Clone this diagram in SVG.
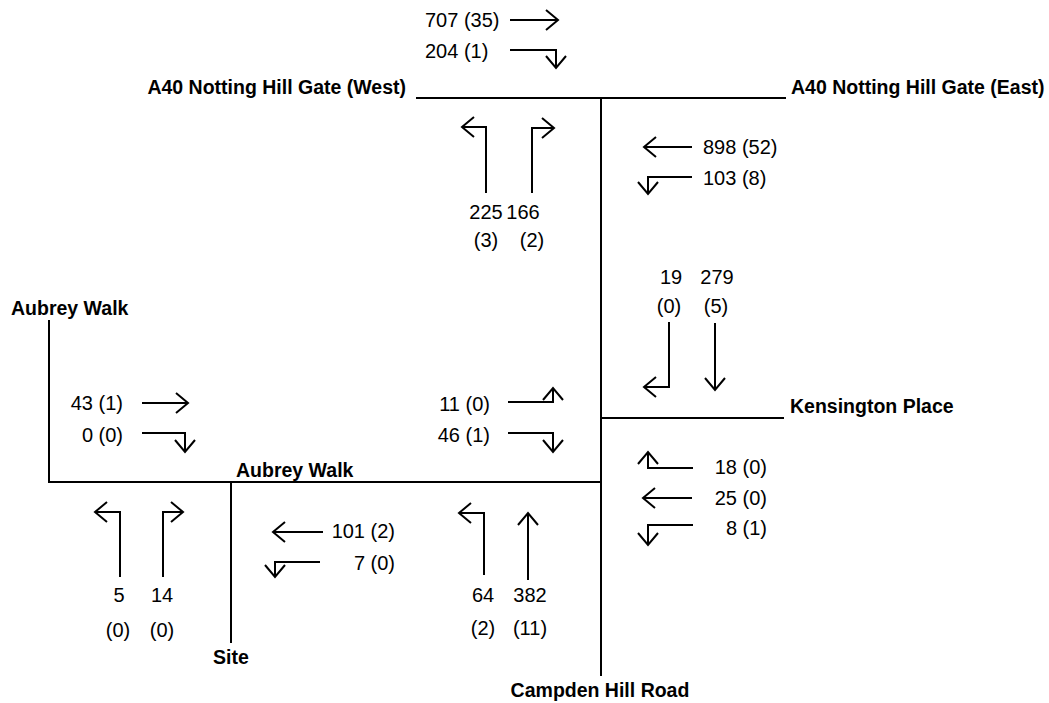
<svg xmlns="http://www.w3.org/2000/svg" width="1049" height="703" viewBox="0 0 1049 703">
<style>
.road{stroke:#000;stroke-width:2;fill:none;stroke-linecap:square}
.arr{stroke:#000;stroke-width:2;fill:none;marker-end:url(#chev)}
.lbl{font-family:"Liberation Sans",Arial,sans-serif;font-weight:bold;font-size:19.5px;fill:#000}
.num{font-family:"Liberation Sans",Arial,sans-serif;font-size:20px;fill:#000}
.e{text-anchor:end}
.m{text-anchor:middle}
</style>
<defs>
<marker id="chev" viewBox="-14 -12 16 24" refX="0" refY="0" markerWidth="16" markerHeight="24" markerUnits="userSpaceOnUse" orient="auto">
<path d="M-12,-10 L0,0 L-12,10" fill="none" stroke="#000" stroke-width="2"/>
</marker>
</defs>
<rect width="1049" height="703" fill="#fff"/>
<g id="roads">
<line class="road" x1="417" y1="98" x2="785" y2="98"/>
<line class="road" x1="601" y1="98" x2="601" y2="675"/>
<line class="road" x1="601" y1="418" x2="783" y2="418"/>
<line class="road" x1="49" y1="482" x2="601" y2="482"/>
<line class="road" x1="49" y1="321" x2="49" y2="482"/>
<line class="road" x1="231" y1="482" x2="231" y2="642"/>
</g>
<g id="road-labels">
<g id="a40-west"><text class="lbl e" x="406" y="94">A40 Notting Hill Gate (West)</text></g>
<g id="a40-east"><text class="lbl" x="791" y="94">A40 Notting Hill Gate (East)</text></g>
<g id="aubrey-walk-west"><text class="lbl" x="11" y="315">Aubrey Walk</text></g>
<g id="kensington-place"><text class="lbl" x="790" y="413">Kensington Place</text></g>
<g id="aubrey-walk"><text class="lbl" x="236" y="477">Aubrey Walk</text></g>
<g id="site"><text class="lbl m" x="231" y="664">Site</text></g>
<g id="campden-hill-road"><text class="lbl m" x="600" y="697">Campden Hill Road</text></g>
</g>
<g id="connectors">
<polyline class="arr" points="510,20 558,20"/>
<polyline class="arr" points="510,50 556,50 556,68"/>
<polyline class="arr" points="486,193 486,127 462,127"/>
<polyline class="arr" points="532,193 532,128 554,128"/>
<polyline class="arr" points="692,147 644,147"/>
<polyline class="arr" points="692,177 648,177 648,194"/>
<polyline class="arr" points="669,322 669,387 644,387"/>
<polyline class="arr" points="715,323 715,390"/>
<polyline class="arr" points="693,468 648,468 648,452"/>
<polyline class="arr" points="692,498 643,498"/>
<polyline class="arr" points="693,525 648,525 648,545"/>
<polyline class="arr" points="508,402 553,402 553,388"/>
<polyline class="arr" points="508,433 553,433 553,452"/>
<polyline class="arr" points="142,403 188,403"/>
<polyline class="arr" points="142,433 185,433 185,452"/>
<polyline class="arr" points="120,577 120,512 95,512"/>
<polyline class="arr" points="163,577 163,512 183,512"/>
<polyline class="arr" points="323,532 273,532"/>
<polyline class="arr" points="320,562 275,562 275,577"/>
<polyline class="arr" points="484,575 484,513 459,513"/>
<polyline class="arr" points="528,580 528,513"/>
</g>
<g id="counts">
<text class="num" x="425" y="27">707 (35)</text>
<text class="num" x="425" y="58">204 (1)</text>
<text class="num m" x="486" y="219">225</text>
<text class="num m" x="523" y="219">166</text>
<text class="num m" x="486" y="247">(3)</text>
<text class="num m" x="532" y="247">(2)</text>
<text class="num" x="703" y="154">898 (52)</text>
<text class="num" x="703" y="185">103 (8)</text>
<text class="num m" x="671" y="284">19</text>
<text class="num m" x="717" y="284">279</text>
<text class="num m" x="669" y="313">(0)</text>
<text class="num m" x="716" y="313">(5)</text>
<text class="num e" x="767" y="474">18 (0)</text>
<text class="num e" x="767" y="505">25 (0)</text>
<text class="num e" x="767" y="535">8 (1)</text>
<text class="num e" x="490" y="411">11 (0)</text>
<text class="num e" x="490" y="442">46 (1)</text>
<text class="num e" x="123" y="410">43 (1)</text>
<text class="num e" x="123" y="442">0 (0)</text>
<text class="num m" x="119" y="602">5</text>
<text class="num m" x="162" y="602">14</text>
<text class="num m" x="118" y="637">(0)</text>
<text class="num m" x="162" y="637">(0)</text>
<text class="num e" x="395" y="538">101 (2)</text>
<text class="num e" x="395" y="570">7 (0)</text>
<text class="num m" x="483" y="602">64</text>
<text class="num m" x="530" y="602">382</text>
<text class="num m" x="483" y="635">(2)</text>
<text class="num m" x="530" y="635">(11)</text>
</g>
</svg>
